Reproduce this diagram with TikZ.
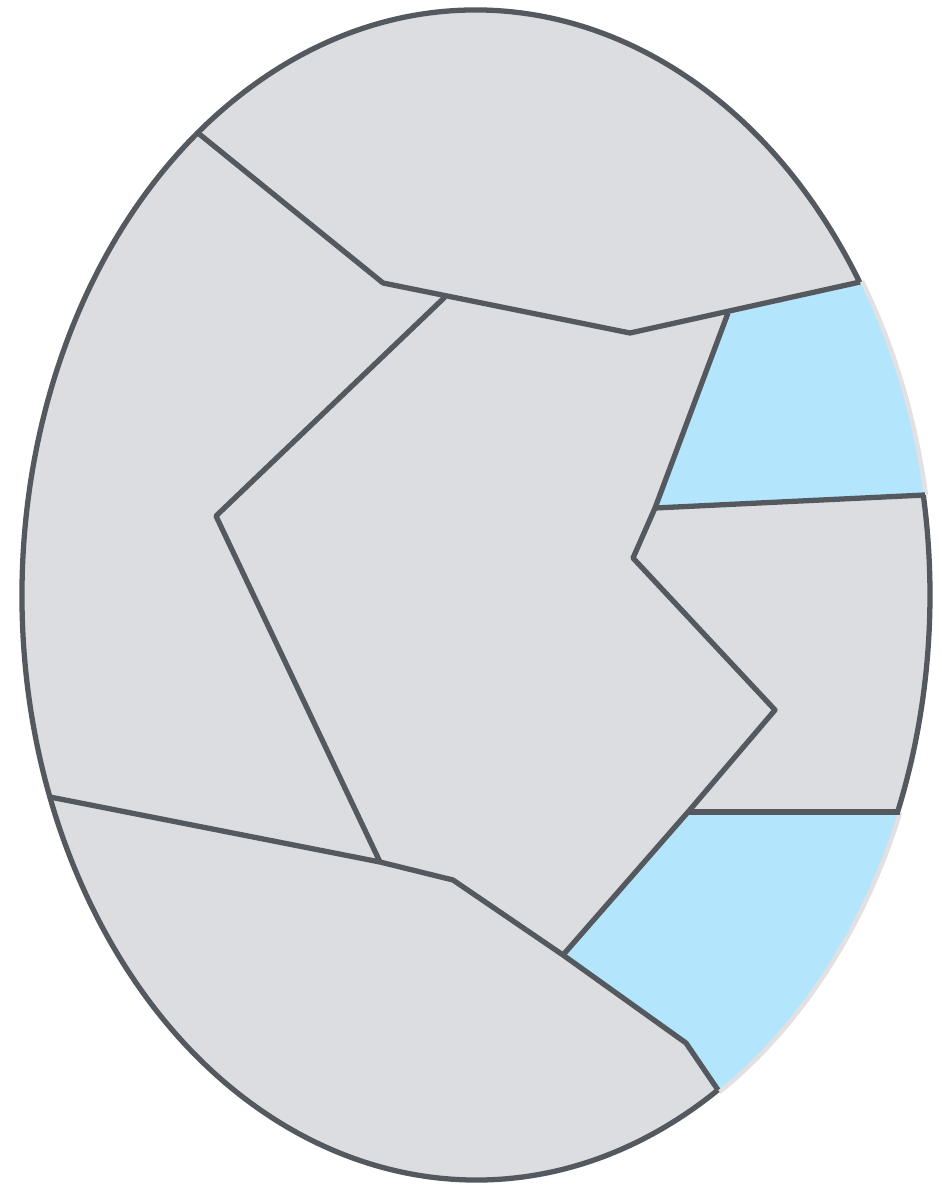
\documentclass[tikz,border=0pt]{standalone}
\usepackage{xcolor}
\usepackage{tikz}
\definecolor{myslate}{RGB}{84,88,95}
\definecolor{mygray}{RGB}{220,221,224}
\definecolor{mysky}{RGB}{179,229,252}
\definecolor{myshade}{RGB}{225,225,228}
\tikzset{
  seam/.style={draw=myslate, line width=1.5pt, line join=round},
  skyfill/.style={fill=mysky},
  shade/.style={draw=myshade, line width=1.6pt}
}

\begin{document}
\begin{tikzpicture}[x=0.01cm, y=0.01cm]
  \useasboundingbox (0,0) rectangle (941,-1185);
  % ── Soft shadow along the open (blue) rim ─────────────────────────────────
  \draw[shade] (476,-595) ++(9.8:456 and 587) arc[start angle=9.8, end angle=32.3, x radius=456, y radius=587];
  \draw[shade] (476,-595) ++(-57.8:456 and 587) arc[start angle=-57.8, end angle=-21.7, x radius=456, y radius=587];
  % ── Body of the ellipse ───────────────────────────────────────────────────
  \fill[mygray] (476,-595) ellipse [x radius=454, y radius=585];
  % ── Blue pieces, cut by the ellipse ──────────────────────────────────────
  \begin{scope}
    \clip (476,-595) ellipse [x radius=454, y radius=585];
    \fill[skyfill] (728,-313) -- (860,-282) -- (1000,-251) -- (1000,-491) -- (925,-495) -- (655,-508) -- cycle;
    \fill[skyfill] (688,-812) -- (1000,-812) -- (1000,-1200) -- (793,-1200) -- (686,-1043) -- (563,-955) -- cycle;
  \end{scope}
  % ── Inner seams ───────────────────────────────────────────────────────────
  % Top piece
  \draw[seam] (198,-133) -- (383,-283) -- (630,-333) -- (860,-282);
  % Left piece
  \draw[seam] (445,-297) -- (216,-516) -- (380,-862);
  % Bottom piece
  \draw[seam] (50,-797) -- (380,-862) -- (453,-880) -- (563,-955) -- (686,-1043) -- (718,-1090);
  % Central piece, right side
  \draw[seam] (728,-313) -- (655,-508) -- (633,-558) -- (775,-710) -- (688,-812) -- (563,-955);
  % Right piece
  \draw[seam] (655,-508) -- (925,-495);
  \draw[seam] (688,-812) -- (900,-812);
  % ── Rim, left open where the blue pieces meet it ─────────────────────────
  \draw[seam] (476,-595) ++(32.3:454 and 585) arc[start angle=32.3, end angle=302.2, x radius=454, y radius=585];
  \draw[seam] (476,-595) ++(-21.7:454 and 585) arc[start angle=-21.7, end angle=9.8, x radius=454, y radius=585];
\end{tikzpicture}
\end{document}
